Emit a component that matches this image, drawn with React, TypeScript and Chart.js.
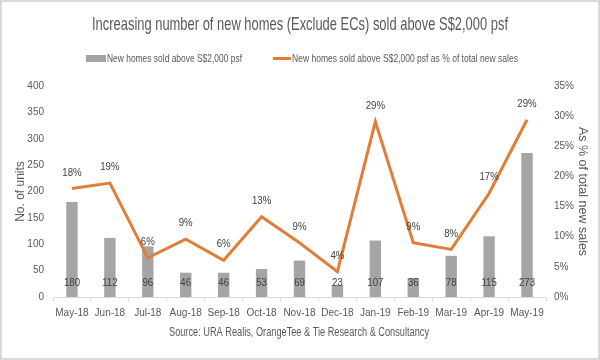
import React, { useEffect, useRef } from "react";
import { Chart, registerables } from "chart.js";

Chart.register(...registerables);

const chartTitle = "Increasing number of new homes (Exclude ECs) sold above S$2,000 psf";
const sourceText = "Source: URA Realis, OrangeTee & Tie Research & Consultancy";
const barSeriesName = "New homes sold above S$2,000 psf";
const lineSeriesName = "New homes sold above S$2,000 psf as % of total new sales";
const leftAxisTitle = "No. of units";
const rightAxisTitle = "As % of total new sales";

const months = [
  "May-18", "Jun-18", "Jul-18", "Aug-18", "Sep-18", "Oct-18", "Nov-18",
  "Dec-18", "Jan-19", "Feb-19", "Mar-19", "Apr-19", "May-19",
];
const unitsSold = [180, 112, 96, 46, 46, 53, 69, 23, 107, 36, 78, 115, 273];
const pctOfSales = [18.0, 18.9, 6.5, 9.6, 6.1, 13.3, 9.0, 4.2, 29.1, 9.0, 7.9, 17.2, 29.4];
const pctLabels = ["18%", "19%", "6%", "9%", "6%", "13%", "9%", "4%", "29%", "9%", "8%", "17%", "29%"];

const TEXT = "#595959";
const BAR = "#a5a5a5";
const ORANGE = "#e27d38";

function hasFont(name: string): boolean {
  const c = document.createElement("canvas").getContext("2d") as CanvasRenderingContext2D;
  c.font = "20px monospace";
  const a = c.measureText("May-18 abcXYZ 400").width;
  c.font = `20px "${name}", monospace`;
  const b = c.measureText("May-18 abcXYZ 400").width;
  return Math.abs(a - b) > 0.5;
}

const HAS_NARROW = hasFont("Liberation Sans Narrow");
const FAMILY = HAS_NARROW ? '"Liberation Sans Narrow", sans-serif' : '"Liberation Sans", sans-serif';
const TICK_X_SIZE = HAS_NARROW ? 10.5 : 10;
const TICK_Y_SIZE = HAS_NARROW ? 11 : 10;
const LABEL_SIZE = 11.5;
const LABEL_SQUEEZE = HAS_NARROW ? 1 : 0.84;

function fitText(ctx: CanvasRenderingContext2D, text: string, x: number, y: number, width: number, align: "left" | "center") {
  const w = ctx.measureText(text).width;
  const sx = width / w;
  ctx.save();
  const left = align === "center" ? x - width / 2 : x;
  ctx.translate(left, y);
  ctx.scale(sx, 1);
  ctx.textAlign = "left";
  ctx.fillText(text, 0, 0);
  ctx.restore();
}

function squeezedLabel(ctx: CanvasRenderingContext2D, text: string, x: number, y: number) {
  ctx.save();
  ctx.translate(x, y);
  ctx.scale(LABEL_SQUEEZE, 1);
  ctx.textAlign = "center";
  ctx.fillText(text, 0, 0);
  ctx.restore();
}

const decorPlugin = {
  id: "decor",
  afterDraw(chart: any) {
    const ctx: CanvasRenderingContext2D = chart.ctx;
    ctx.save();
    ctx.textBaseline = "middle";
    ctx.fillStyle = TEXT;
    ctx.font = `18.5px ${FAMILY}`;
    fitText(ctx, chartTitle, 300, 25, 416, "center");

    // legend
    ctx.fillStyle = BAR;
    ctx.fillRect(86, 55, 20, 7);
    ctx.strokeStyle = ORANGE;
    ctx.lineWidth = 3;
    ctx.beginPath();
    ctx.moveTo(273, 58.5);
    ctx.lineTo(291, 58.5);
    ctx.stroke();
    ctx.fillStyle = TEXT;
    ctx.font = `11.5px ${FAMILY}`;
    fitText(ctx, barSeriesName, 107, 59, 135, "left");
    fitText(ctx, lineSeriesName, 292, 59, 226, "left");

    ctx.font = `12.5px ${FAMILY}`;
    fitText(ctx, sourceText, 299, 333, 260, "center");

    ctx.strokeStyle = "#d9d9d9";
    ctx.lineWidth = 2;
    ctx.strokeRect(1, 1, 598, 358);
    ctx.restore();
  },
  afterDatasetsDraw(chart: any) {
    const ctx: CanvasRenderingContext2D = chart.ctx;
    ctx.save();
    ctx.font = `${LABEL_SIZE}px ${FAMILY}`;
    ctx.fillStyle = "#404040";
    ctx.textBaseline = "middle";
    const y0 = chart.scales.y.getPixelForValue(0);
    chart.getDatasetMeta(0).data.forEach((b: any, i: number) => {
      squeezedLabel(ctx, String(unitsSold[i]), b.x, y0 - 14);
    });
    chart.getDatasetMeta(1).data.forEach((p: any, i: number) => {
      squeezedLabel(ctx, pctLabels[i], p.x, p.y - 16);
    });
    ctx.restore();
  },
};

export default function App() {
  const ref = useRef<HTMLCanvasElement | null>(null);
  useEffect(() => {
    document.body.style.margin = "0";
    const chart = new Chart(ref.current as HTMLCanvasElement, {
      type: "bar",
      data: {
        labels: months,
        datasets: [
          {
            type: "bar",
            label: barSeriesName,
            data: unitsSold,
            backgroundColor: BAR,
            yAxisID: "y",
            barPercentage: 0.3,
            categoryPercentage: 1,
            order: 2,
          },
          {
            type: "line",
            label: lineSeriesName,
            data: pctOfSales,
            borderColor: ORANGE,
            borderWidth: 3,
            pointRadius: 0,
            tension: 0,
            yAxisID: "y1",
            order: 1,
          } as any,
        ],
      },
      options: {
        responsive: false,
        animation: false,
        devicePixelRatio: 1,
        layout: { padding: { top: 86, left: 0, right: 0, bottom: 0 } },
        plugins: {
          legend: { display: false },
          title: { display: false },
          tooltip: { enabled: false },
        },
        scales: {
          x: {
            grid: { offset: true, drawOnChartArea: false, drawTicks: true, tickLength: 4, color: "#d9d9d9" },
            border: { color: "#d9d9d9" },
            ticks: { font: { family: FAMILY, size: TICK_X_SIZE }, color: TEXT, padding: 6, maxRotation: 0, autoSkip: false },
            afterFit: (s: any) => { s.height = 63; },
          },
          y: {
            position: "left",
            min: 0,
            max: 400,
            ticks: { stepSize: 50, padding: 9, font: { family: FAMILY, size: TICK_Y_SIZE }, color: TEXT },
            grid: { display: false, drawTicks: false },
            border: { display: false },
            title: {
              display: true,
              text: leftAxisTitle,
              color: TEXT,
              font: { family: '"Liberation Sans", sans-serif', size: 12 },
              padding: { top: 13, bottom: 0 },
            },
            afterFit: (s: any) => { s.width = 53; },
          },
          y1: {
            position: "right",
            min: 0,
            max: 35,
            ticks: { stepSize: 5, padding: 8, font: { family: FAMILY, size: TICK_Y_SIZE }, color: TEXT, callback: (v: any) => v + "%" },
            grid: { display: false, drawTicks: false },
            border: { display: false },
            title: {
              display: true,
              text: rightAxisTitle,
              color: TEXT,
              font: { family: '"Liberation Sans", sans-serif', size: 12.5 },
              padding: { top: 10.5, bottom: 0 },
            },
            afterFit: (s: any) => { s.width = 54; },
          },
        },
      } as any,
      plugins: [decorPlugin],
    });
    return () => chart.destroy();
  }, []);
  return (
    <div style={{ position: "fixed", left: 0, top: 0, width: 600, height: 360, background: "#fff" }}>
      <canvas ref={ref} width={600} height={360} style={{ display: "block" }} />
    </div>
  );
}
